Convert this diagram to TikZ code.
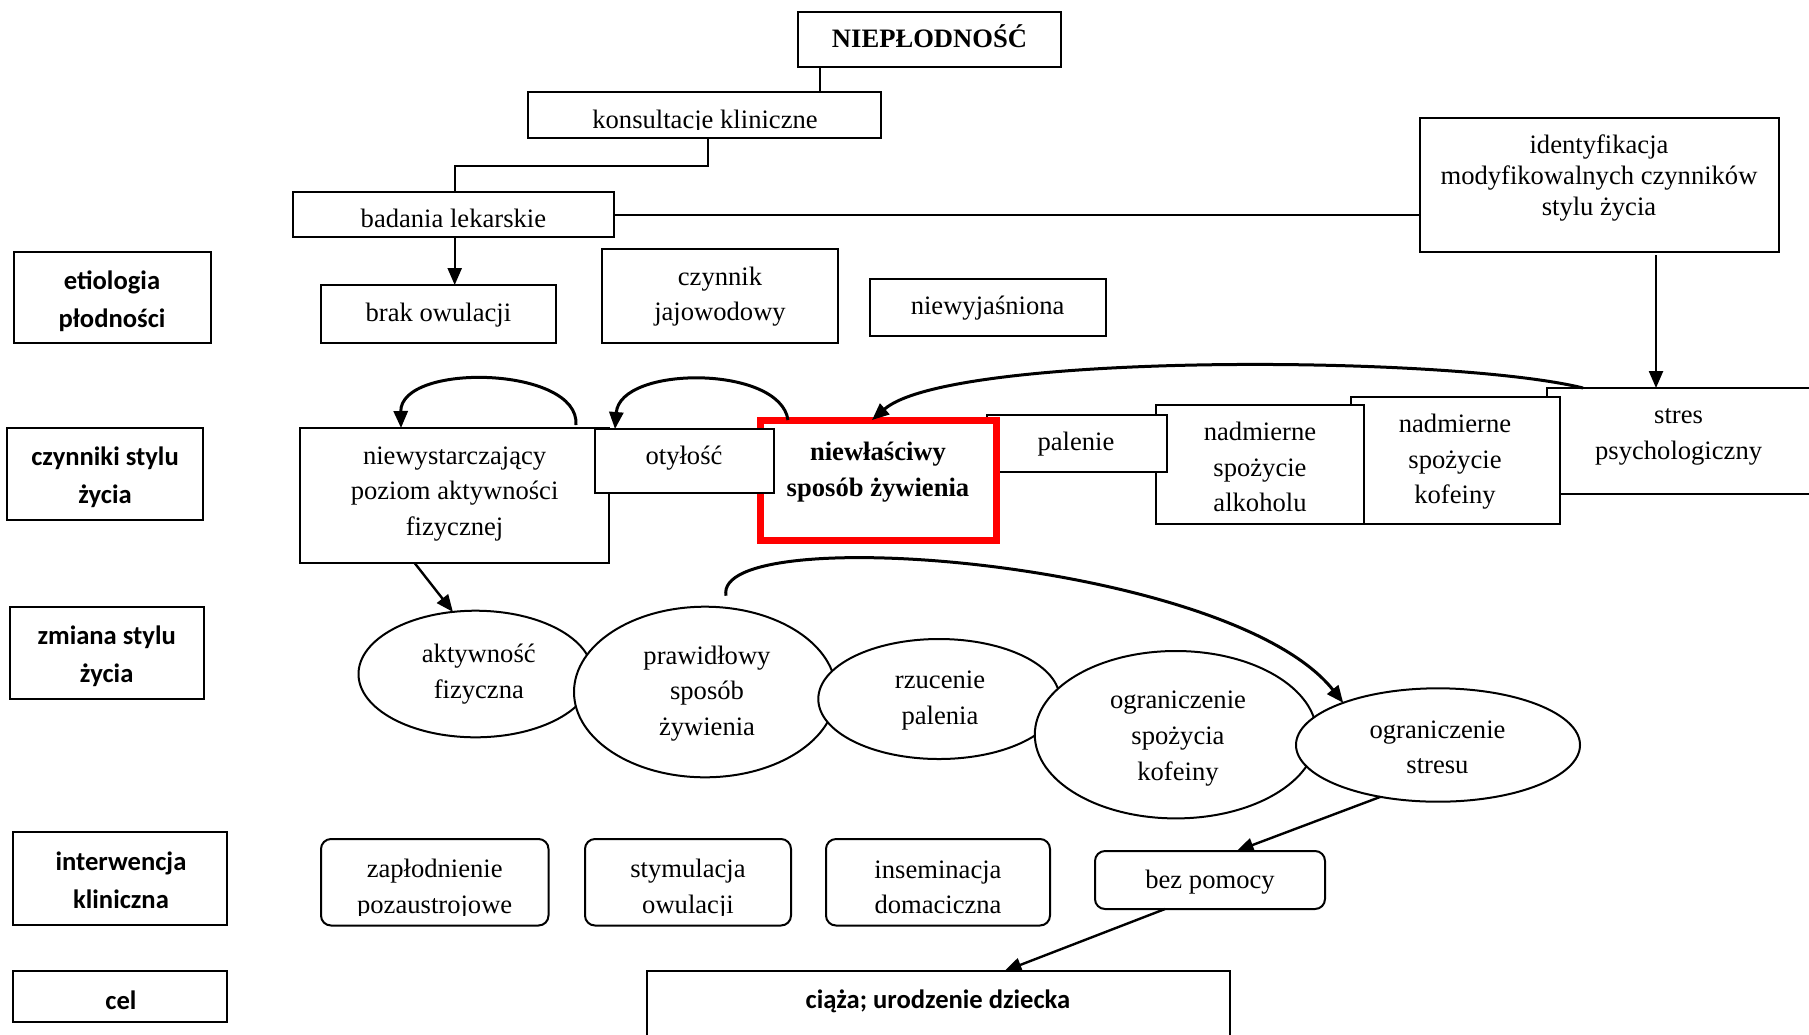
\documentclass[tikz,border=0pt]{standalone}
\usepackage{fontspec}
\setmainfont{Liberation Serif}
\newfontfamily\labfont{Carlito}
\usetikzlibrary{arrows.meta,shapes.geometric,fit,calc}
\begin{document}
\begin{tikzpicture}[x=0.5pt,y=-0.5pt,
  every node/.style={inner sep=0pt, outer sep=0pt},
  bx/.style={draw, line width=1pt, fill=white, inner sep=0pt},
  rbx/.style={bx, rounded corners=5pt},
  lab/.style={font=\labfont\bfseries\fontsize{13.3}{19}\selectfont, align=center},
  txt/.style={font=\fontsize{13.3}{17.8}\selectfont, align=center},
  el/.style={draw, ellipse, line width=1pt, fill=white, inner sep=0pt},
  conn/.style={line width=1pt},
  arr/.style={line width=1.2pt, -{Triangle[length=8.5pt,width=7pt]}},
  carr/.style={line width=1.5pt, -{Triangle[length=8.5pt,width=7pt]}}
]
\useasboundingbox (0,0) rectangle (1809,1034);
\fill[white] (0,0) rectangle (1809,1034);

% ---------- top ----------
\node[bx, fit={(798,12) (1061,67)}] (niep) {};
\node[txt, font=\bfseries\fontsize{13.3}{17.8}\selectfont] (tniep) at (929.5,36.7) {NIEPŁODNOŚĆ};
\node[bx, fit={(528,92) (881,138)}] (kons) {};
\begin{scope}
\clip (528,92) rectangle (881,129);
\node[txt] (tkons) at (705,122) {konsultacje kliniczne};
\end{scope}
\node[bx, fit={(293,191.5) (614,236.5)}] (bad) {};
\node[txt] (tbad) at (453.4,218.7) {badania lekarskie};
\node[bx, fit={(1420,118) (1779,252)}] (ident) {};
\node[txt, font=\fontsize{13.3}{15.3}\selectfont] (tident) at (1599,178) {identyfikacja\\modyfikowalnych czynników\\stylu życia};

% ---------- etiologia ----------
\node[bx, fit={(14,251.5) (210.5,343.3)}] (letio) {};
\node[lab] (tletio) at (112,301) {etiologia\\płodności};
\node[bx, fit={(321,285) (556,343)}] (brak) {};
\node[txt] (tbrak) at (438.4,315) {brak owulacji};
\node[bx, fit={(602,249) (838,343)}] (czyn) {};
\node[txt] (tczyn) at (720,296.5) {czynnik\\jajowodowy};
\node[bx, fit={(870,279) (1106,336)}] (niewyj) {};
\node[txt] (tniewyj) at (987.6,308) {niewyjaśniona};

% ---------- czynniki stylu zycia ----------
\node[bx, fit={(7,428) (203,520)}] (lczyn) {};
\node[lab] (tlczyn) at (105,477.3) {czynniki stylu\\życia};
\node[bx, fit={(1547,388) (1816,493.5)}] (stres) {};
\node[txt] (tstres) at (1678.6,436.6) {stres\\psychologiczny};
\node[bx, fit={(1351,396.5) (1559.5,523.5)}] (kof) {};
\node[txt] (tkof) at (1455,462) {nadmierne\\spożycie\\kofeiny};
\node[bx, fit={(1156,405) (1364,523.5)}] (alk) {};
\node[txt] (talk) at (1260,467.2) {nadmierne\\spożycie\\alkoholu};
\node[bx, fit={(987,414.5) (1166.5,472)}] (pal) {};
\node[txt] (tpal) at (1076,444.5) {palenie};
\node[draw=red, line width=3.5pt, fill=white, fit={(760.5,420) (996,540.5)}] (red) {};
\node[txt, font=\bfseries\fontsize{13.3}{17.8}\selectfont] (tred) at (878,472) {niewłaściwy\\sposób żywienia};
\node[bx, fit={(300,428) (609,563)}] (niewyst) {};
\node[txt] (tniewyst) at (454.6,494) {niewystarczający\\poziom aktywności\\fizycznej};
\node[bx, fit={(595,429) (774,493)}] (otyl) {};
\node[txt] (totyl) at (684,458.5) {otyłość};

% ---------- zmiana stylu zycia ----------
\node[bx, fit={(10,606.7) (204.3,699)}] (lzm) {};
\node[lab] (tlzm) at (106.7,656.3) {zmiana stylu\\życia};
\node[el, minimum width=117pt, minimum height=63.3pt] (ak) at (475.5,674) {};
\node[txt] (tak) at (478.8,674) {aktywność\\fizyczna};
\node[el, minimum width=131pt, minimum height=85.3pt] (pr) at (705,692) {};
\node[txt] (tpr) at (707,693.5) {prawidłowy\\sposób\\żywienia};
\node[el, minimum width=120.7pt, minimum height=60pt] (rz) at (939,699) {};
\node[txt] (trz) at (940,700.3) {rzucenie\\palenia};
\node[el, minimum width=141pt, minimum height=83.7pt] (ok) at (1175.8,734.7) {};
\node[txt] (tok) at (1178,738.5) {ograniczenie\\spożycia\\kofeiny};
\node[el, minimum width=142pt, minimum height=56.7pt] (os) at (1438,745) {};
\node[txt] (tos) at (1437.5,747.2) {ograniczenie\\stresu};

% ---------- interwencja ----------
\node[bx, fit={(13.4,832.3) (226.8,925)}] (lint) {};
\node[lab] (tlint) at (121,880.2) {interwencja\\kliniczna};
\node[rbx, fit={(321,839) (548.5,925.5)}] (zap) {};
\node[rbx, fit={(585,839) (791,925.5)}] (stym) {};
\node[rbx, fit={(826,839) (1050,925.5)}] (ins) {};
\begin{scope}
\clip (300,839) rectangle (1060,915);
\node[txt] (tzap) at (434.7,889.3) {zapłodnienie\\pozaustrojowe};
\node[txt] (tstym) at (688,889.3) {stymulacja\\owulacji};
\node[txt] (tins) at (938,887.3) {inseminacja\\domaciczna};
\end{scope}
\node[rbx, fit={(1095,851) (1325,909)}] (bez) {};
\node[txt] (tbez) at (1210,882.3) {bez pomocy};

% ---------- cel ----------
\node[bx, fit={(13.4,971) (226.8,1021.7)}] (lcel) {};
\node[lab] (tlcel) at (121,1000) {cel};
\node[bx, fit={(647.3,971) (1229.5,1050)}] (ciaza) {};
\node[lab] (tciaza) at (938,1001.3) {ciąża; urodzenie dziecka};

% ---------- connectors ----------
\coordinate (kx) at (819.5,0);
\coordinate (kb) at (708,165.7);
\coordinate (bx1) at (454.7,0);
\coordinate (h1) at (0,215);
\coordinate (ix) at (1656,0);
\draw[conn] (niep.south -| kx) -- (kons.north -| kx);
\draw[conn] (kons.south -| kb) -- (kb) -| (bad.north -| bx1);
\draw[arr] (bad.south -| bx1) -- (brak.north -| bx1);
\draw[conn] (bad.east |- h1) -- (ident.west |- h1);
\draw[arr] ($(ident.south -| ix)+(0,3)$) -- (stres.north -| ix);

\coordinate (s1) at (1583,0);
\coordinate (r1) at (872,0);
\draw[carr] (stres.north -| s1) .. controls (1450,355) and (950,352) .. (red.north -| r1);
\coordinate (n1) at (576,0);
\coordinate (n2) at (401,0);
\draw[carr] ($(niewyst.north -| n1)+(0,-3)$) .. controls (580,366) and (400,362) .. (niewyst.north -| n2);
\coordinate (r2) at (788,0);
\coordinate (o1) at (615,0);
\draw[carr] (red.north -| r2) .. controls (780,365) and (620,365) .. (otyl.north -| o1);

\coordinate (n3) at (414.6,0);
\draw[arr] (niewyst.south -| n3) -- (ak.110);
\draw[carr] ($(pr.north)+(21,-11)$) .. controls (712,520) and (1230,560) .. (os.156);

\coordinate (b1) at (1236.6,0);
\draw[arr] (os.222) -- (bez.north -| b1);
\coordinate (b2) at (1165,0);
\coordinate (c1) at (1004.5,0);
\draw[arr] (bez.south -| b2) -- (ciaza.north -| c1);
\end{tikzpicture}
\end{document}
